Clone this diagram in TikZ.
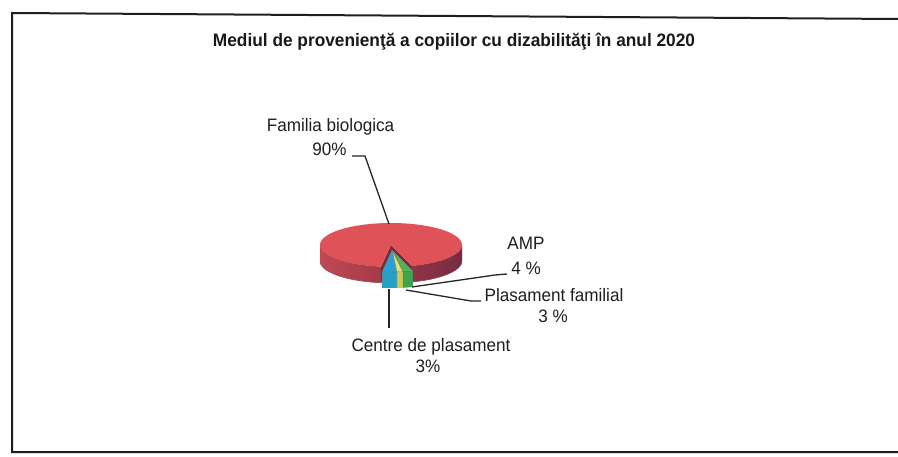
\documentclass[tikz,border=0pt]{standalone}
\usepackage{fontspec}
\setmainfont{Liberation Sans}
\newfontfamily\lblfont[FakeStretch=0.95]{Liberation Sans}
\newfontfamily\ttlfont[FakeStretch=0.96]{Liberation Sans Bold}
\definecolor{redtop}{RGB}{222,82,88}
\definecolor{redcut}{RGB}{120,40,55}
\definecolor{sideA}{RGB}{192,72,82}
\definecolor{sideB}{RGB}{165,58,72}
\definecolor{sideC}{RGB}{145,52,70}
\definecolor{sideD}{RGB}{118,44,66}
\definecolor{bluetop}{RGB}{42,160,212}
\definecolor{blueside}{RGB}{38,160,196}
\definecolor{yeltop}{RGB}{222,226,122}
\definecolor{yelside}{RGB}{200,204,84}
\definecolor{grntop}{RGB}{78,182,84}
\definecolor{grnside}{RGB}{64,164,74}
\tikzset{
  lbl/.style={font=\lblfont\fontsize{18}{20}\selectfont, inner sep=0pt, anchor=base, text=black!88},
  ttl/.style={font=\ttlfont\fontsize{18}{20}\selectfont, inner sep=0pt, anchor=base, text=black!90},
  leader/.style={draw=black!85, line width=1.3pt},
  frameline/.style={draw=black!88, line width=2pt},
  edge/.style={draw=black!55, line width=0.4pt}
}
\begin{document}
\begin{tikzpicture}[x=1pt,y=-1pt]
\useasboundingbox (0,0) rectangle (898,457);
\fill[white] (0,0) rectangle (898,457);
% frame
\coordinate (ftr) at (898,19);
\coordinate (ftl) at (12,13);
\coordinate (fbl) at (12,452);
\coordinate (fbr) at (898,452);
\draw[frameline] (ftr) -- (ftl) -- (fbl) -- (fbr);
% title
\node[ttl] (title) at (454,46.7) {Mediul de provenienţă a copiilor cu dizabilităţi în anul 2020};
% ---- red pie (90%) ----
\fill[left color=sideC, right color=sideD]
  plot[domain=0:73,samples=30] ({391+71*cos(\x)},{245+22*sin(\x)})
  -- plot[domain=73:0,samples=30] ({391+71*cos(\x)},{261+22*sin(\x)}) -- cycle;
\fill[left color=sideA, right color=sideB]
  plot[domain=98:180,samples=30] ({391+71*cos(\x)},{245+22*sin(\x)})
  -- plot[domain=180:98,samples=30] ({391+71*cos(\x)},{261+22*sin(\x)}) -- cycle;
\fill[redcut] (391,245) -- ({391+71*cos(73)},{245+22*sin(73)}) -- ++(0,16) -- (391,261) -- cycle;
\fill[redcut] (391,245) -- ({391+71*cos(98)},{245+22*sin(98)}) -- ++(0,16) -- (391,261) -- cycle;
\fill[redtop] (391,245) -- plot[domain=98:433,samples=90] ({391+71*cos(\x)},{245+22*sin(\x)}) -- cycle;
\draw[edge, draw=redcut!70] plot[domain=0:180,samples=60] ({391+71*cos(\x)},{261+22*sin(\x)});
% ---- small slices (exploded) ----
% blue: Centre de plasament
\fill[blueside] plot[domain=86:98,samples=10] ({392+71*cos(\x)},{250+22*sin(\x)})
  -- plot[domain=98:86,samples=10] ({392+71*cos(\x)},{266+22*sin(\x)}) -- cycle;
\fill[bluetop] (392,250) -- plot[domain=86:98,samples=10] ({392+71*cos(\x)},{250+22*sin(\x)}) -- cycle;
% yellow: Plasament familial
\fill[yelside] plot[domain=81:86,samples=6] ({392+71*cos(\x)},{250+22*sin(\x)})
  -- plot[domain=86:81,samples=6] ({392+71*cos(\x)},{266+22*sin(\x)}) -- cycle;
\fill[yeltop] (392,250) -- plot[domain=81:86,samples=6] ({392+71*cos(\x)},{250+22*sin(\x)}) -- cycle;
% green: AMP
\fill[grnside] plot[domain=73:81,samples=8] ({392+71*cos(\x)},{250+22*sin(\x)})
  -- plot[domain=81:73,samples=8] ({392+71*cos(\x)},{266+22*sin(\x)}) -- cycle;
\fill[grntop] (392,250) -- plot[domain=73:81,samples=8] ({392+71*cos(\x)},{250+22*sin(\x)}) -- cycle;
% slice edges
\draw[edge] plot[domain=73:98,samples=20] ({392+71*cos(\x)},{250+22*sin(\x)});
\foreach \a in {73,81,86,98} {
  \draw[edge] (392,250) -- ({392+71*cos(\a)},{250+22*sin(\a)}) -- ++(0,16);
}
% ---- labels ----
\node[lbl] (famname) at (330.5,131.7) {Familia biologica};
\node[lbl] (fampct) at (329.5,156) {90\%};
\node[lbl] (ampname) at (526,250) {AMP};
\node[lbl] (amppct) at (526,275) {4 \%};
\node[lbl] (plfname) at (554,301.7) {Plasament familial};
\node[lbl] (plfpct) at (553,323) {3 \%};
\node[lbl] (cpname) at (431,351.7) {Centre de plasament};
\node[lbl] (cppct) at (428,373) {3\%};
% ---- leaders ----
\coordinate (famA) at (352,156);
\coordinate (famB) at (365,156);
\coordinate (famC) at (389,224);
\draw[leader] (famA) -- (famB) -- (famC);
\coordinate (ampA) at (507,274);
\coordinate (ampB) at (495,275);
\coordinate (ampC) at (412,287);
\draw[leader] (ampA) -- (ampB) -- (ampC);
\coordinate (plfA) at (481,301);
\coordinate (plfB) at (471,301);
\coordinate (plfC) at (406,290);
\draw[leader] (plfA) -- (plfB) -- (plfC);
\coordinate (cpA) at (389,328);
\coordinate (cpB) at (389,289);
\draw[leader] (cpA) -- (cpB);
\end{tikzpicture}
\end{document}
